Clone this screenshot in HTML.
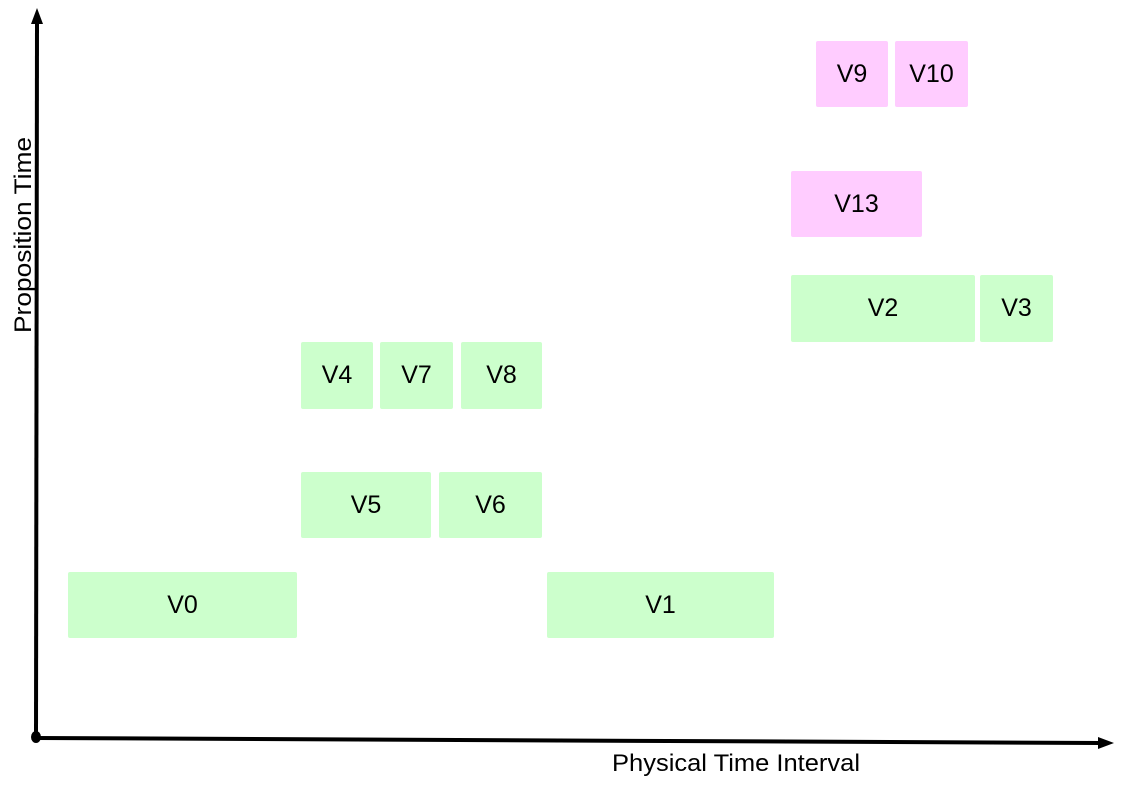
<!DOCTYPE html>
<html><head><style>
body{margin:0;width:1123px;height:794px;background:#fff;position:relative;overflow:hidden;font-family:"Liberation Sans",sans-serif}
.b{position:absolute;display:flex;align-items:center;justify-content:center;font-size:25px;color:#000;border-radius:2px}
.g{background:#ccffcc}.p{background:#ffccff}
</style></head><body>
<svg width="1123" height="794" style="position:absolute;left:0;top:0">
<line x1="37" y1="22" x2="36" y2="738" stroke="#000" stroke-width="4"/>
<polygon points="37,8 31,24 43,24" fill="#000"/>
<line x1="36" y1="738" x2="1100" y2="743" stroke="#000" stroke-width="4"/>
<polygon points="1114,743 1098,737 1098,749" fill="#000"/>
<ellipse cx="36" cy="737" rx="5" ry="6" fill="#000"/>
<text x="612" y="771" font-family="Liberation Sans" font-size="24" textLength="248" lengthAdjust="spacingAndGlyphs">Physical Time Interval</text>
<text transform="translate(31,333) rotate(-90)" font-family="Liberation Sans" font-size="24" textLength="196" lengthAdjust="spacingAndGlyphs">Proposition Time</text>
</svg>
<div class="b p" style="left:816px;top:41px;width:72px;height:66px">V9</div>
<div class="b p" style="left:895px;top:41px;width:73px;height:66px">V10</div>
<div class="b p" style="left:791px;top:171px;width:131px;height:66px">V13</div>
<div class="b g" style="left:791px;top:275px;width:184px;height:67px">V2</div>
<div class="b g" style="left:980px;top:275px;width:73px;height:67px">V3</div>
<div class="b g" style="left:301px;top:342px;width:72px;height:67px">V4</div>
<div class="b g" style="left:380px;top:342px;width:73px;height:67px">V7</div>
<div class="b g" style="left:461px;top:342px;width:81px;height:67px">V8</div>
<div class="b g" style="left:301px;top:472px;width:130px;height:66px">V5</div>
<div class="b g" style="left:439px;top:472px;width:103px;height:66px">V6</div>
<div class="b g" style="left:68px;top:572px;width:229px;height:66px">V0</div>
<div class="b g" style="left:547px;top:572px;width:227px;height:66px">V1</div>
</body></html>
